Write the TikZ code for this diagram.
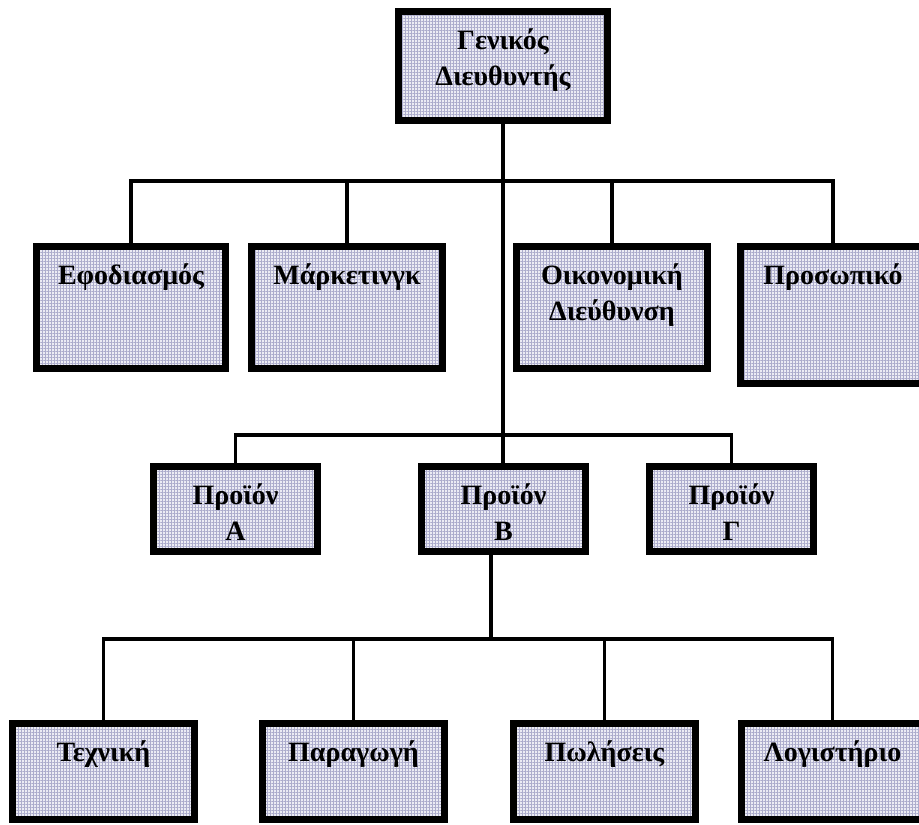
\documentclass[tikz,border=0pt]{standalone}
\usepackage{fontspec}
\setmainfont{Liberation Serif}
\usetikzlibrary{patterns.meta}
\definecolor{gridline}{RGB}{172,172,204}
\definecolor{boxbg}{RGB}{236,236,244}
\tikzset{
  orgbox/.style={draw=black, line width=7pt, preaction={fill=boxbg},
    pattern={Hatch[distance=3pt,angle=0,line width=0.7pt]}, pattern color=gridline,
    inner sep=0pt},
  lbl/.style={font=\fontsize{28}{36}\selectfont\bfseries, inner sep=0pt, anchor=base},
  conn/.style={line width=3.5pt, line join=miter}
}
% #1 name, #2 left, #3 top, #4 right, #5 bottom (outer edges), #6 label
\newcommand\orgunit[6]{%
  \node[orgbox, minimum width={(#4-#2-7)*1pt}, minimum height={(#5-#3-7)*1pt}]
    (#1) at ({(#2+#4)/2},{(#3+#5)/2}) {};
  \node[lbl] (#1-t) at ({(#2+#4)/2},{#3+41})
    {\begin{tabular}[t]{@{}c@{}}#6\end{tabular}};
}
\begin{document}
\begin{tikzpicture}[x=1pt,y=-1pt]
\clip (0,0) rectangle (919,825);
\fill[white] (0,0) rectangle (919,825);

% head
\orgunit{gd}{395}{8}{611}{124}{Γενικός\\Διευθυντής}

% departments
\orgunit{ef}{33}{243}{229}{372}{Εφοδιασμός}
\orgunit{mk}{248}{243}{446}{372}{Μάρκετινγκ}
\orgunit{oi}{513}{243}{711}{372}{Οικονομική\\Διεύθυνση}
\orgunit{pr}{737}{243}{929}{387}{Προσωπικό}

% products
\orgunit{pa}{150}{463}{321}{555}{Προϊόν\\Α}
\orgunit{pb}{418}{463}{589}{555}{Προϊόν\\Β}
\orgunit{pg}{646}{463}{817}{555}{Προϊόν\\Γ}

% functions of product B
\orgunit{tx}{9}{720}{198}{823}{Τεχνική}
\orgunit{pp}{259}{720}{448}{823}{Παραγωγή}
\orgunit{pw}{510}{720}{699}{823}{Πωλήσεις}
\orgunit{lo}{738}{720}{927}{823}{Λογιστήριο}

% connector levels
\coordinate (bar1) at (503,181);
\coordinate (bar2) at (503,435);
\coordinate (bar3) at (491,639);

\draw[conn] (gd.south) -- (gd.south |- pb.north);

\draw[conn] (ef.north) -- (ef.north |- bar1) -- (pr.north |- bar1) -- (pr.north);
\draw[conn] (mk.north) -- (mk.north |- bar1);
\draw[conn] (oi.north) -- (oi.north |- bar1);

\draw[conn] (pa.north) -- (pa.north |- bar2) -- (pg.north |- bar2) -- (pg.north);

\draw[conn] (bar3 |- pb.south) -- (bar3);
\draw[conn] (tx.north) -- (tx.north |- bar3) -- (lo.north |- bar3) -- (lo.north);
\draw[conn] (pp.north) -- (pp.north |- bar3);
\draw[conn] (pw.north) -- (pw.north |- bar3);
\end{tikzpicture}
\end{document}
